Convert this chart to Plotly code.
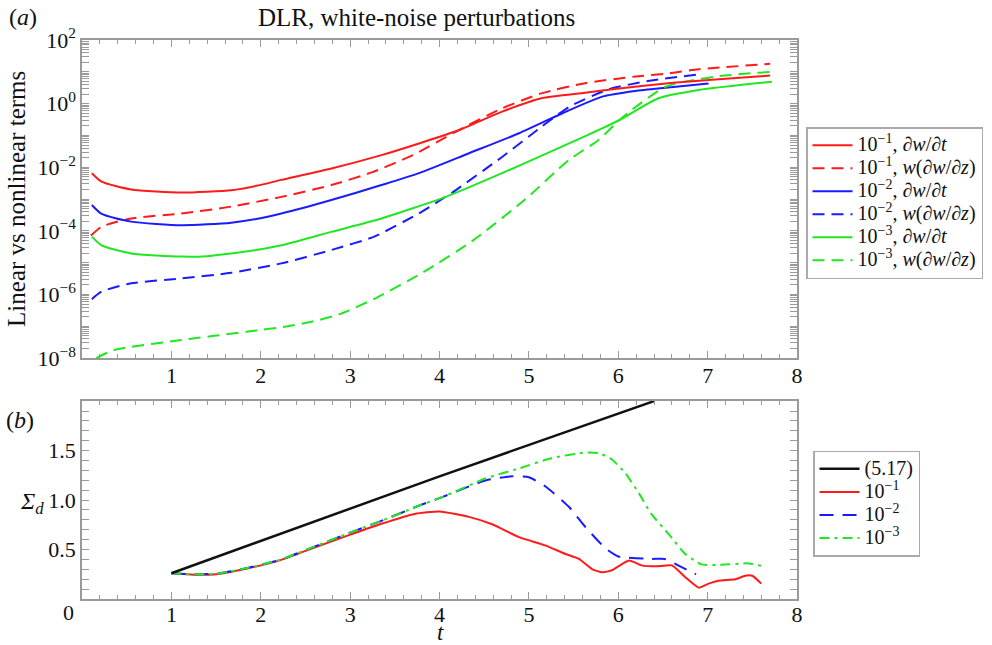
import plotly.graph_objects as go

# ---------------- data: panel (a) ----------------
r_dt_x = [0.11, 0.22, 0.55, 1.11, 1.40, 1.67, 1.95, 2.23, 2.79, 3.35, 3.77, 4.22, 4.70, 5.14, 5.63, 6.01, 6.56, 7.01, 7.70]
r_dt_y = [6.5e-3, 3.5e-3, 2.0e-3, 1.6e-3, 1.7e-3, 1.9e-3, 2.6e-3, 4.0e-3, 9.1e-3, 2.4e-2, 5.6e-2, 0.148, 0.56, 1.48, 2.19, 3.0, 4.4, 5.5, 7.6]
r_nl_x = [0.10, 0.22, 0.55, 1.11, 1.67, 2.23, 2.79, 3.25, 3.70, 4.18, 4.70, 5.14, 5.63, 6.19, 6.56, 6.90, 7.70]
r_nl_y = [7.1e-5, 1.35e-4, 2.45e-4, 3.5e-4, 5.8e-4, 1.17e-3, 2.75e-3, 7.0e-3, 2.4e-2, 0.13, 0.71, 2.1, 4.4, 7.1, 8.9, 12.0, 17.8]
b_dt_x = [0.11, 0.22, 0.55, 1.11, 1.40, 1.67, 1.95, 2.23, 2.79, 3.35, 3.77, 4.33, 4.89, 5.37, 5.82, 6.19, 6.56, 7.01]
b_dt_y = [6.5e-4, 3.4e-4, 1.95e-4, 1.5e-4, 1.6e-4, 1.8e-4, 2.35e-4, 3.5e-4, 9.3e-4, 2.75e-3, 6.5e-3, 2.75e-2, 0.117, 0.49, 1.66, 2.5, 3.2, 4.3]
b_nl_x = [0.11, 0.22, 0.55, 1.11, 1.67, 2.23, 2.79, 3.27, 3.77, 4.00, 4.14, 4.70, 5.14, 5.45, 5.89, 6.35, 6.93]
b_nl_y = [7.1e-7, 1.23e-6, 2.24e-6, 3.2e-6, 4.8e-6, 9.5e-6, 2.5e-5, 6.6e-5, 3.55e-4, 8.9e-4, 1.58e-3, 2.1e-2, 0.186, 0.79, 2.8, 5.2, 8.5]
g_dt_x = [0.11, 0.22, 0.55, 1.11, 1.40, 1.67, 1.95, 2.23, 2.79, 3.35, 4.07, 4.70, 5.45, 5.78, 6.01, 6.45, 6.90, 7.72]
g_dt_y = [6.6e-5, 3.5e-5, 1.95e-5, 1.55e-5, 1.6e-5, 1.95e-5, 2.5e-5, 3.5e-5, 9.3e-5, 2.45e-4, 1.17e-3, 6.5e-3, 5.6e-2, 0.148, 0.30, 1.48, 2.7, 4.9]
g_nl_x = [0.16, 0.36, 1.11, 1.86, 2.30, 2.60, 2.90, 3.30, 3.82, 4.38, 4.95, 5.45, 5.78, 6.01, 6.15, 6.53, 7.09, 7.72]
g_nl_y = [1.0e-8, 1.8e-8, 3.7e-8, 6.8e-8, 1.0e-7, 1.45e-7, 2.5e-7, 8.0e-7, 5.0e-6, 5.1e-5, 9.3e-4, 1.7e-2, 7.2e-2, 0.30, 0.63, 3.4, 7.1, 10.0]

# ---------------- data: panel (b) ----------------
k_x = [1.0, 4.0, 6.4]
k_y = [0.26, 1.24, 2.0]
s1_x = [1.0, 1.25, 1.5, 1.86, 2.23, 2.6, 2.97, 3.35, 3.72, 4.0, 4.33, 4.59, 4.89, 5.19, 5.41, 5.56, 5.71, 5.82, 5.93,
        6.12, 6.26, 6.42, 6.60, 6.75, 6.90, 7.01, 7.12, 7.31, 7.42, 7.50, 7.60]
s1_y = [0.26, 0.245, 0.25, 0.31, 0.395, 0.52, 0.64, 0.76, 0.86, 0.885, 0.83, 0.755, 0.625, 0.54, 0.455, 0.405, 0.30, 0.27,
        0.29, 0.39, 0.34, 0.33, 0.34, 0.22, 0.115, 0.155, 0.185, 0.20, 0.235, 0.235, 0.155]
s2_x = [1.0, 1.25, 1.5, 1.86, 2.23, 2.6, 2.97, 3.35, 3.79, 4.03, 4.52, 4.81, 5.0, 5.19, 5.45, 5.63, 5.86, 6.0, 6.37, 6.52, 6.67, 6.87]
s2_y = [0.26, 0.25, 0.255, 0.315, 0.40, 0.53, 0.66, 0.79, 0.95, 1.03, 1.20, 1.24, 1.23, 1.135, 0.93, 0.73, 0.51, 0.43, 0.405, 0.405, 0.34, 0.25]
s3_x = [1.0, 1.25, 1.5, 1.86, 2.23, 2.6, 2.97, 3.35, 3.79, 4.03, 4.52, 4.89, 5.26, 5.63, 5.78, 5.93, 6.08, 6.23, 6.37, 6.56, 6.75, 6.93, 7.12, 7.46, 7.62]
s3_y = [0.26, 0.25, 0.255, 0.315, 0.40, 0.53, 0.66, 0.79, 0.95, 1.03, 1.22, 1.32, 1.425, 1.48, 1.475, 1.41, 1.27, 1.07, 0.86, 0.66, 0.455, 0.35, 0.345, 0.36, 0.33]

x_ticks = [1, 2, 3, 4, 5, 6, 7, 8]
y_log_ticks = [1e-8, 1e-6, 1e-4, 1e-2, 1, 1e2]
y_log_text = ["10<sup>−8</sup>", "10<sup>−6</sup>", "10<sup>−4</sup>", "10<sup>−2</sup>", "10<sup>0</sup>", "10<sup>2</sup>"]
y_lin_ticks = [0.5, 1.0, 1.5]
y_lin_text = ["0.5", "1.0", "1.5"]

RED, BLUE, GREEN = "#ff1a1a", "#1a1aff", "#22e622"
FONT = "'Liberation Serif', 'Times New Roman', Times, 'DejaVu Serif', serif"
AX = "#9a9a9a"

fig = go.Figure()


def big(s, px):
    return '<span style="font-size:%dpx">%s</span>' % (px, s)


def top(x, y, color, dash, name, xa="x"):
    fig.add_trace(go.Scatter(x=x, y=y, mode="lines", name=big(name, 20), legend="legend",
                             line=dict(color=color, width=2, dash=dash, shape="spline", smoothing=0.6),
                             xaxis=xa, yaxis="y"))

dt = "∂<i>w</i>/∂<i>t</i>"
nl = "<i>w</i>(∂<i>w</i>/∂<i>z</i>)"
top(r_dt_x, r_dt_y, RED, "solid", "10<sup>−1</sup>, " + dt, "x3")
top(r_nl_x, r_nl_y, RED, "12px,7px", "10<sup>−1</sup>, " + nl)
top(b_dt_x, b_dt_y, BLUE, "solid", "10<sup>−2</sup>, " + dt)
top(b_nl_x, b_nl_y, BLUE, "12px,7px", "10<sup>−2</sup>, " + nl)
top(g_dt_x, g_dt_y, GREEN, "solid", "10<sup>−3</sup>, " + dt)
top(g_nl_x, g_nl_y, GREEN, "12px,7px", "10<sup>−3</sup>, " + nl)


def bot(x, y, color, dash, name, width=2, xa="x2"):
    fig.add_trace(go.Scatter(x=x, y=y, mode="lines", name=big(name, 20), legend="legend2",
                             line=dict(color=color, width=width, dash=dash, shape="spline", smoothing=0.5),
                             xaxis=xa, yaxis="y2"))

bot(k_x, k_y, "#111111", "solid", "(5.17)", 2.5, "x4")
bot(s1_x, s1_y, RED, "solid", "10<sup>−1</sup>")
bot(s2_x, s2_y, BLUE, "14px,9px", "10<sup>−2</sup>")
bot(s3_x, s3_y, GREEN, "10px,5px,3px,5px", "10<sup>−3</sup>")

tickfont = dict(family=FONT, size=22, color="#111")
axcommon = dict(showline=True, linecolor=AX, linewidth=1.5, mirror="allticks", ticks="inside",
                tickcolor=AX, tickwidth=1.2, showgrid=False, zeroline=False, tickfont=tickfont)
xminor = dict(dtick=0.2, tick0=0, ticks="inside", ticklen=4, tickcolor=AX)
# label-only axes (overlaying the framed ones) so tick labels sit where the reference puts them
xlab = dict(range=[0, 8], tickmode="array", tickvals=x_ticks, ticks="", showline=False, showgrid=False,
            zeroline=False, tickfont=tickfont, anchor="free")

fig.update_layout(
    width=992, height=645,
    margin=dict(l=82, r=195, t=40, b=46, autoexpand=False),
    paper_bgcolor="white", plot_bgcolor="white",
    font=dict(family=FONT, size=20, color="#111"),
    xaxis=dict(domain=[0, 1], range=[0, 8], tickmode="array", tickvals=x_ticks, ticklen=7,
               minor=xminor, anchor="y", showticklabels=False, **axcommon),
    xaxis3=dict(overlaying="x", position=0.431 - 2 / 559, **xlab),
    yaxis=dict(domain=[0.431, 1], type="log", range=[-8, 2], tickmode="array", tickvals=y_log_ticks,
               ticktext=y_log_text, ticklen=7,
               minor=dict(dtick="D1", ticks="inside", ticklen=4, tickcolor=AX),
               anchor="x", **axcommon),
    xaxis2=dict(domain=[0, 1], range=[0, 8], tickmode="array", tickvals=x_ticks, ticklen=7,
                minor=xminor, anchor="y2", showticklabels=False, **axcommon),
    xaxis4=dict(overlaying="x2", position=0, **xlab),
    yaxis2=dict(domain=[0, 0.354], range=[0, 2], tickmode="array", tickvals=y_lin_ticks, ticktext=y_lin_text,
                ticklen=7, minor=dict(dtick=0.1, tick0=0, ticks="inside", ticklen=4, tickcolor=AX),
                anchor="x2", **axcommon),
    legend=dict(x=1.0126, y=0.844, xanchor="left", yanchor="top", bgcolor="white",
                bordercolor="#aaaaaa", borderwidth=1.5, font=dict(family=FONT, size=15.4, color="#111"),
                tracegroupgap=0, itemwidth=40),
    legend2=dict(x=1.0224, y=0.265, xanchor="left", yanchor="top", bgcolor="white",
                 bordercolor="#aaaaaa", borderwidth=1.5, font=dict(family=FONT, size=15.4, color="#111"),
                 tracegroupgap=0, itemwidth=40),
    showlegend=True,
)

ann = [
    dict(text="DLR, white-noise perturbations", x=0.4685, y=1.041, size=25),
    dict(text="(<i>a</i>)", x=-0.0825, y=1.041, size=24),
    dict(text="(<i>b</i>)", x=-0.0867, y=0.32, size=24),
    dict(text="Linear vs nonlinear terms", x=-0.091, y=0.7156, size=25, angle=-90),
    dict(text="<i>Σ</i><sub><i>d</i></sub>", x=-0.07, y=0.1717, size=24),
    dict(text="<i>t</i>", x=0.5007, y=-0.060, size=23),
]
for a in ann:
    fig.add_annotation(text=a["text"], x=a["x"], y=a["y"], xref="paper", yref="paper",
                       xanchor="center", yanchor="middle", showarrow=False,
                       textangle=a.get("angle", 0), font=dict(family=FONT, size=a["size"], color="#111"))
fig.add_annotation(text="0", x=-0.0084, y=-0.025, xref="paper", yref="paper", xanchor="right",
                   yanchor="middle", showarrow=False, font=dict(family=FONT, size=22, color="#111"))

fig.write_html("out.html")
